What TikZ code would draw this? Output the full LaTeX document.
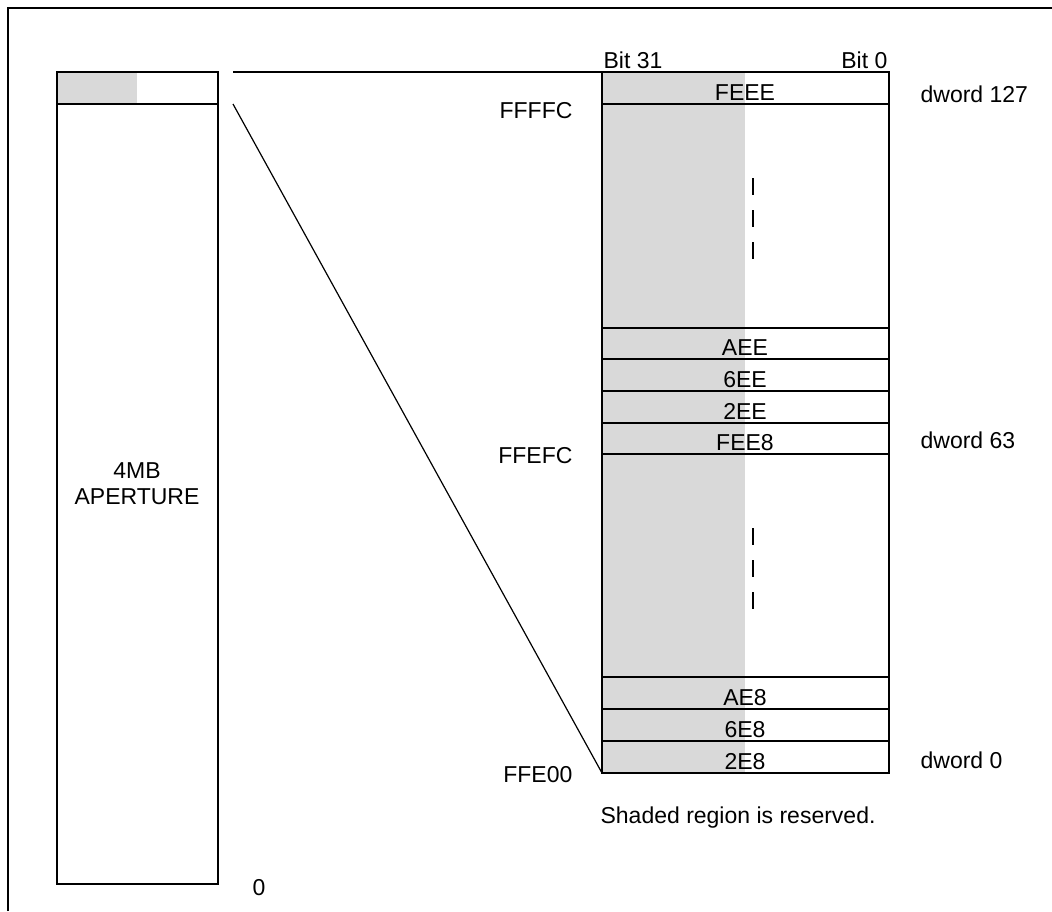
\documentclass[tikz,border=0pt]{standalone}
\usepackage{fontspec}
\setmainfont{Liberation Sans}
\tikzset{
  reserved/.style={fill=black!15},
  lbl/.style={font=\fontsize{23}{26}\selectfont, inner sep=0pt},
}
\begin{document}
\begin{tikzpicture}[x=1pt, y=-1pt, line width=1.2pt]
	\useasboundingbox (0,0) rectangle (1052,911);
	\draw (8,911) -- (8,8) -- (1052,8);

	% 4MB aperture
	\fill[reserved] (57,72) rectangle (137,104);
	\draw (57,72) rectangle (218,884);
	\draw (57,104) -- (218,104);
	\node[lbl, align=center] (aperture) at (137,484) {4MB\\APERTURE};
	\node[lbl, anchor=base] (zero) at (259,895) {0};

	% dword table
	\fill[reserved] (602,72) rectangle (745,773);
	\draw (602,72) rectangle (889,773);
	\foreach \y in {104,328,359,391,454,677,709,741}
		\draw (602,\y) -- (889,\y);
	\draw[line width=2.4pt] (602,423) -- (889,423);
	\foreach \y/\t in {100/FEEE, 355/AEE, 387/6EE, 419/2EE, 450/FEE8, 705/AE8, 737/6E8, 769/2E8}
		\node[lbl, anchor=base] (row\t) at (745,\y) {\t};
	\foreach \y in {178,210,242,528,560,592}
		\draw[line width=1.8pt] (753,\y) -- (753,\y+17);

	\node[lbl, anchor=base west] (bitHi) at (603,68) {Bit 31};
	\node[lbl, anchor=base east] (bitLo) at (888,68) {Bit 0};
	\node[lbl, anchor=base east] (adrTop) at (573,118) {FFFFC};
	\node[lbl, anchor=base east] (adrMid) at (573,463) {FFEFC};
	\node[lbl, anchor=base east] (adrLow) at (573,782) {FFE00};
	\node[lbl, anchor=base west] (dwTop) at (920,102) {dword 127};
	\node[lbl, anchor=base west] (dwMid) at (920,448) {dword 63};
	\node[lbl, anchor=base west] (dwLow) at (920,768) {dword 0};
	\node[lbl, anchor=base west] (note) at (600,823) {Shaded region is reserved.};

	% zoom lines
	\coordinate (zoomA) at (233,72);
	\coordinate (zoomB) at (233,104);
	\coordinate (tabTop) at (602,72);
	\coordinate (tabLow) at (602,773);
	\draw (zoomA) -- (tabTop);
	\draw (zoomB) -- (tabLow);
\end{tikzpicture}
\end{document}
